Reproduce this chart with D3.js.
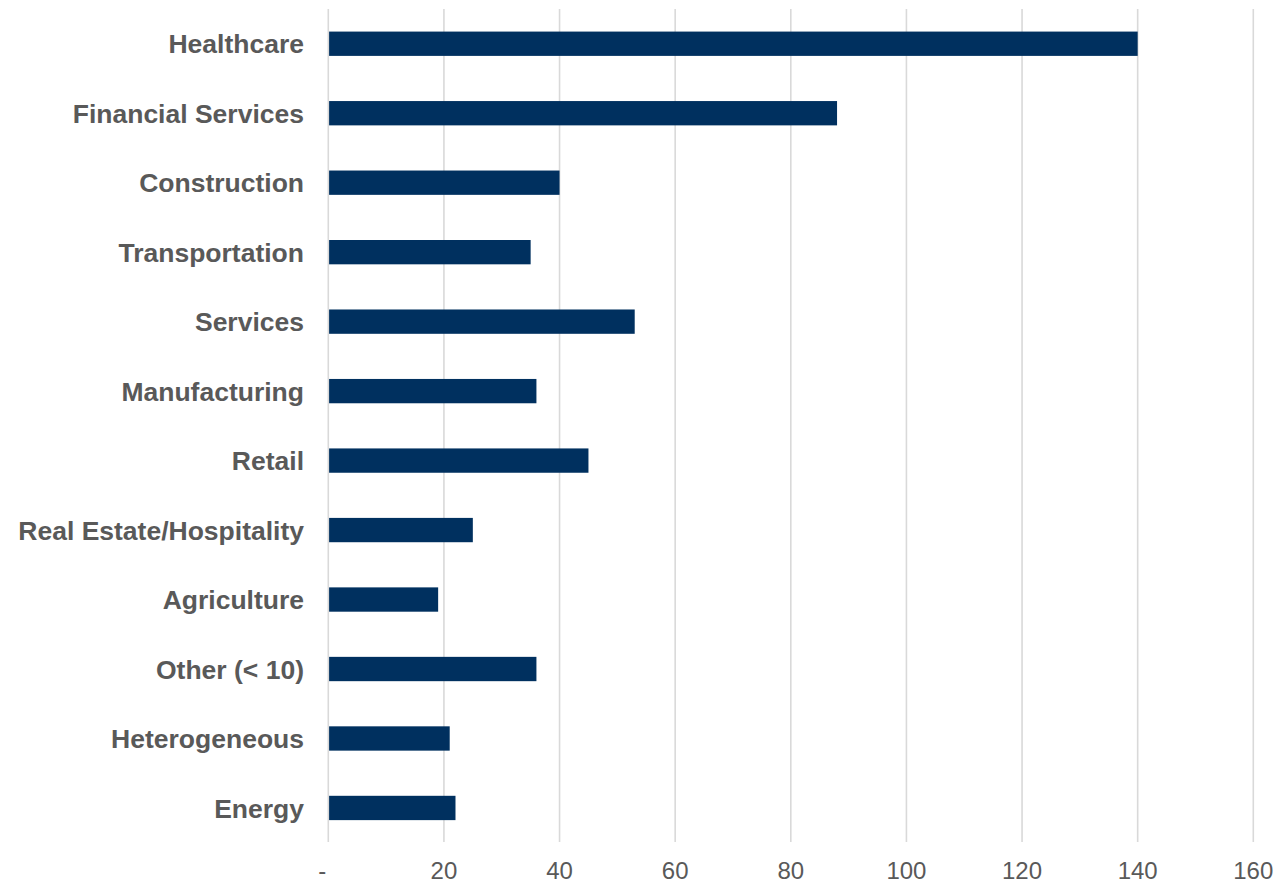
<!DOCTYPE html>
<html>
<head>
<meta charset="utf-8">
<script src="https://cdn.jsdelivr.net/npm/d3@7"></script>
<style>
  html, body { margin: 0; padding: 0; background: #ffffff; }
  svg { display: block; }
</style>
</head>
<body>
<svg id="chart" width="1288" height="881"></svg>
<script>
const categories = ["Healthcare", "Financial Services", "Construction", "Transportation", "Services",
  "Manufacturing", "Retail", "Real Estate/Hospitality", "Agriculture", "Other (< 10)", "Heterogeneous", "Energy"];
const values = [140, 88, 40, 35, 53, 36, 45, 25, 19, 36, 21, 22];
const tickValues = [0, 20, 40, 60, 80, 100, 120, 140, 160];

const svg = d3.select("#chart");
const x = d3.scaleLinear().domain([0, 160]).range([328.3, 1253.3]);
const y = d3.scaleBand().domain(categories).range([9, 842.7]).paddingInner(0.65).paddingOuter(0.325);

// gridlines
svg.append("g").selectAll("line").data(tickValues).join("line")
  .attr("x1", d => x(d)).attr("x2", d => x(d))
  .attr("y1", 9).attr("y2", 842)
  .attr("stroke", "#d9d9d9").attr("stroke-width", 1.6);

// bars
svg.append("g").selectAll("rect").data(values).join("rect")
  .attr("x", x(0) + 0.8)
  .attr("y", (d, i) => y(categories[i]))
  .attr("width", d => x(d) - x(0) - 0.8)
  .attr("height", y.bandwidth())
  .attr("fill", "#00305F");

// category labels
svg.append("g").selectAll("text").data(categories).join("text")
  .attr("x", 304)
  .attr("y", d => y(d) + y.bandwidth() / 2)
  .attr("dy", "0.36em")
  .attr("text-anchor", "end")
  .attr("font-family", "Arial, 'Liberation Sans', sans-serif")
  .attr("font-weight", "bold")
  .attr("font-size", "26.5px")
  .attr("fill", "#595959")
  .text(d => d);

// x tick labels
svg.append("g").selectAll("text").data(tickValues).join("text")
  .attr("x", d => x(d) + (d === 0 ? -6 : 0))
  .attr("y", 879)
  .attr("text-anchor", "middle")
  .attr("font-family", "Arial, 'Liberation Sans', sans-serif")
  .attr("font-size", "24px")
  .attr("fill", "#595959")
  .text(d => d === 0 ? "-" : d);
</script>
</body>
</html>
